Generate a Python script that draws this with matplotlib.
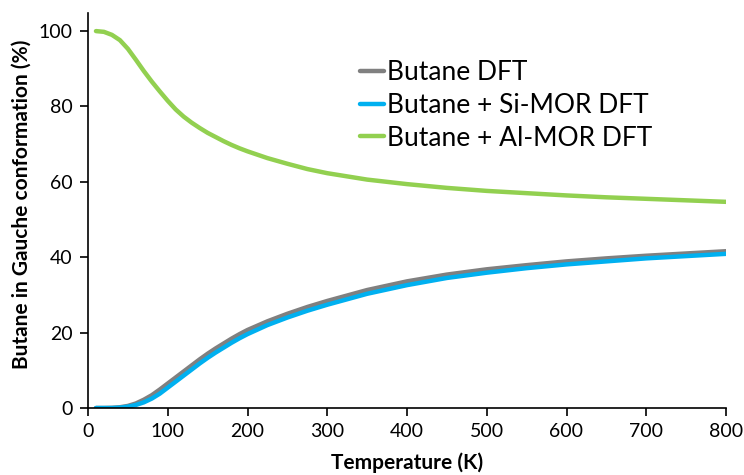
import matplotlib
matplotlib.use("Agg")
import matplotlib.pyplot as plt

temperature = [10, 20, 30, 40, 50, 60, 70, 80, 90, 100, 110, 120, 130, 140, 150, 160, 170,
               180, 190, 200, 225, 250, 275, 300, 350, 400, 450, 500, 550, 600, 650, 700,
               750, 800]
butane_dft = [0.0, 0.0, 0.05, 0.2, 0.55, 1.2, 2.2, 3.4, 4.9, 6.5, 8.1, 9.7, 11.3, 12.9,
              14.4, 15.8, 17.1, 18.4, 19.6, 20.7, 23.0, 25.0, 26.8, 28.4, 31.3, 33.6, 35.4,
              36.8, 37.9, 38.9, 39.7, 40.4, 41.0, 41.6]
butane_si_mor = [0.0, 0.0, 0.0, 0.1, 0.35, 0.8, 1.5, 2.5, 3.8, 5.4, 7.0, 8.6, 10.2, 11.8,
                 13.3, 14.7, 16.0, 17.3, 18.5, 19.6, 22.0, 24.0, 25.8, 27.4, 30.3, 32.6,
                 34.5, 35.9, 37.1, 38.1, 38.9, 39.7, 40.3, 40.9]
butane_al_mor = [100.0, 99.8, 99.0, 97.6, 95.3, 92.4, 89.4, 86.6, 84.0, 81.5, 79.2, 77.3,
                 75.7, 74.3, 73.0, 71.9, 70.8, 69.8, 68.9, 68.1, 66.3, 64.8, 63.4, 62.3,
                 60.6, 59.4, 58.4, 57.6, 57.0, 56.4, 55.9, 55.5, 55.1, 54.7]
series_labels = ["Butane DFT", "Butane + Si-MOR DFT", "Butane + Al-MOR DFT"]
x_ticks = [0, 100, 200, 300, 400, 500, 600, 700, 800]
y_ticks = [0, 20, 40, 60, 80, 100]

plt.rcParams['font.family'] = ['Lato', 'DejaVu Sans']

fig = plt.figure(figsize=(7.44, 4.75), dpi=100)
ax = fig.add_axes([88/744, 67/475, 638/744, 395/475])

ax.plot(temperature, butane_dft, color='#808080', lw=3.2, label=series_labels[0],
        solid_capstyle='round', solid_joinstyle='round')
ax.plot(temperature, butane_si_mor, color='#00b0f0', lw=3.2, label=series_labels[1],
        solid_capstyle='round', solid_joinstyle='round')
ax.plot(temperature, butane_al_mor, color='#92d050', lw=3.2, label=series_labels[2],
        solid_capstyle='round', solid_joinstyle='round')

ax.set_xlim(0, 800)
ax.set_ylim(0, 104.8)
ax.set_xticks(x_ticks)
ax.set_yticks(y_ticks)
ax.tick_params(direction='out', length=6, width=1.2, labelsize=14, colors='black', pad=5)
for s in ['top', 'right']:
    ax.spines[s].set_visible(False)
for s in ['left', 'bottom']:
    ax.spines[s].set_linewidth(1.2)

ax.set_xlabel("Temperature (K)", fontsize=15, fontweight='bold')
ax.set_ylabel("Butane in Gauche conformation (%)", fontsize=15, fontweight='bold')
ax.xaxis.set_label_coords(0.5, -0.112)
ax.yaxis.set_label_coords(-0.088, 0.515)

leg = ax.legend(loc='upper left', bbox_to_anchor=(0.427, 0.88), frameon=False,
                fontsize=19, handlelength=0.9, handletextpad=0.1, labelspacing=0.29,
                borderpad=0, borderaxespad=0)
for line in leg.get_lines():
    line.set_linewidth(3.2)

fig.savefig("out.png", dpi=100)
